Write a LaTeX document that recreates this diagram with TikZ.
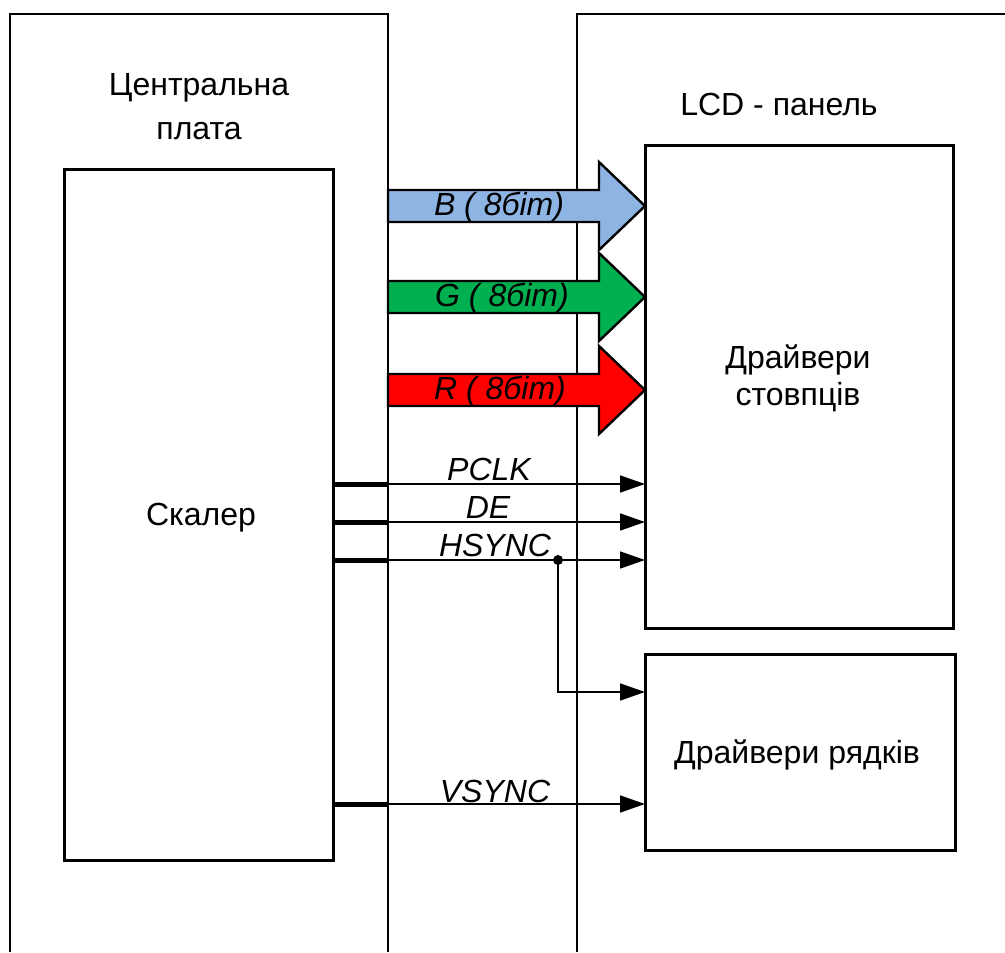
\documentclass[tikz,border=0pt]{standalone}
\usepackage{fontspec}
\setmainfont{Liberation Sans}
\usepackage{xcolor}
\usetikzlibrary{arrows.meta}
\definecolor{bluebus}{RGB}{141,180,226}
\definecolor{greenbus}{RGB}{0,176,80}
\definecolor{redbus}{RGB}{255,0,0}

\begin{document}
\begin{tikzpicture}[x=0.5pt,y=-0.5pt,
  frame/.style={line width=1pt},
  blk/.style={draw,line width=1.5pt,inner sep=0pt,outer sep=0pt},
  txt/.style={font=\fontsize{16pt}{22pt}\selectfont,align=center,inner sep=0pt},
  sigtxt/.style={font=\fontsize{16pt}{18pt}\selectfont\itshape,inner sep=0pt},
  fatarrow/.style={draw,line width=1.2pt,line join=miter},
  bus/.style={line width=2.5pt},
  sig/.style={line width=0.8pt,-{Triangle[length=12.5pt,width=8.5pt]}}]
\useasboundingbox (0,0) rectangle (1005,952);
% boards
\draw[frame] (10,952)--(10,14)--(388,14)--(388,952);
\draw[frame] (577,952)--(577,14)--(1005,14);
\node[txt] (boardlbl) at (199,107) {Центральна\\плата};
\node[txt] (panellbl) at (779,104) {LCD - панель};
% blocks
\node[blk,minimum width=134.5pt,minimum height=345pt] (scaler) at (198.5,515) {};
\node[txt] (scalerlbl) at (201,518) {Скалер};
\node[blk,minimum width=154pt,minimum height=241pt] (coldrv) at (799,387) {};
\node[txt,font=\fontsize{16pt}{18.5pt}\selectfont] (coldrvlbl) at (798,378) {Драйвери\\стовпців};
\node[blk,minimum width=155pt,minimum height=98pt] (rowdrv) at (800,752) {};
\node[txt] (rowdrvlbl) at (797,755) {Драйвери рядків};
% colour buses
\draw[fatarrow,fill=bluebus] (388,190)--(599,190)--(599,162)--(coldrv.west |- 0,206)--(599,250)--(599,222)--(388,222)--cycle;
\node[sigtxt] (blbl) at (499,207) {B ( 8біт)};
\draw[fatarrow,fill=greenbus] (388,281)--(599,281)--(599,253)--(coldrv.west |- 0,297)--(599,341)--(599,313)--(388,313)--cycle;
\node[sigtxt] (glbl) at (502,298) {G ( 8біт)};
\draw[fatarrow,fill=redbus] (388,374)--(599,374)--(599,346)--(coldrv.west |- 0,390)--(599,434)--(599,406)--(388,406)--cycle;
\node[sigtxt] (rlbl) at (500,391) {R ( 8біт)};
% control signals
\coordinate (pclk) at (388,484);
\coordinate (de) at (388,522);
\coordinate (hsync) at (388,560);
\coordinate (vsync) at (388,804);
\draw[bus] (scaler.east |- pclk)--(pclk);
\draw[sig] (pclk)--(coldrv.west |- pclk);
\node[sigtxt,anchor=base] (pclklbl) at (489,480) {PCLK};
\draw[bus] (scaler.east |- de)--(de);
\draw[sig] (de)--(coldrv.west |- de);
\node[sigtxt,anchor=base] (delbl) at (488,518) {DE};
\draw[bus] (scaler.east |- hsync)--(hsync);
\draw[sig] (hsync)--(coldrv.west |- hsync);
\node[sigtxt,anchor=base] (hsynclbl) at (495,556) {HSYNC};
\coordinate (hsbr) at (558,560);
\fill (hsbr) circle (5);
\draw[sig] (hsbr) |- ([yshift=30pt]rowdrv.west);
\draw[bus] (scaler.east |- vsync)--(vsync);
\draw[sig] (vsync)--(rowdrv.west |- vsync);
\node[sigtxt,anchor=base] (vsynclbl) at (495,802) {VSYNC};
\end{tikzpicture}
\end{document}
